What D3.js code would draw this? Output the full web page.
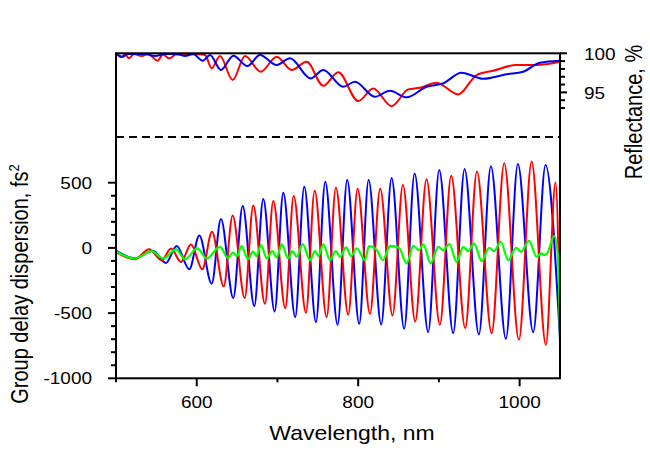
<!DOCTYPE html>
<html><head><meta charset="utf-8">
<script src="https://cdn.jsdelivr.net/npm/d3@7/dist/d3.min.js"></script>
<style>
body{margin:0;background:#fff}
text{font-family:"Liberation Sans",Arial,sans-serif;fill:#000}
</style>
</head><body>
<svg id="chart" width="650" height="453"></svg>
<script>
// ---------- data ----------
const xTicksMajor = [600, 800, 1000];
const xTicksMinor = [500, 700, 900];
const gddTicksMajor = [-1000, -500, 0, 500];
const gddTicksMinor = [-900, -800, -700, -600, -400, -300, -200, -100, 100, 200, 300, 400];
const reflTicksMajor = [100, 95];
const reflTicksMinor = [99, 98, 97, 96, 94, 93];
const separatorGDD = 850;

// group delay dispersion, [wavelength nm, GDD fs^2]
const gddBlue = [
 [500,-21],[523.5,-79],[545.8,-22],[561.9,-115],[575.2,15],[590.8,-164],[603.2,95],[618.5,-274],
 [630,221],[645.3,-385],[656.9,321],[671.3,-446],[682.4,375],[696.5,-487],[707.2,423],[722,-531],
 [733.2,469],[747.7,-569],[759.2,508],[774.5,-589],[786.4,521],[801.3,-582],[812.9,521],[828.5,-587],
 [841.4,536],[857,-620],[869.9,571],[886.7,-646],[900.4,598],[917.7,-654],[931.8,605],[949.5,-664],
 [964.4,626],[983,-697],[997.8,644],[1016.8,-646],[1032.1,636],[1050,-700]
];
const gddRed = [
 [500,-33],[523.5,-87],[540.9,-10],[556.6,-95],[568.1,-5],[580.5,-108],[592.9,26],[606.9,-164],
 [618.9,123],[633.4,-295],[644.5,249],[659.4,-385],[670,326],[684.5,-428],[694.8,359],[709.7,-462],
 [720.1,398],[735.3,-497],[746.1,438],[760.9,-531],[772.4,462],[787.7,-512],[799.3,454],[814.6,-505],
 [827.3,454],[842.5,-518],[855.4,482],[870.7,-564],[884.6,526],[901.2,-589],[915.2,554],[932.6,-615],
 [947.1,585],[965.3,-654],[980.9,649],[999.1,-705],[1014.8,662],[1032.5,-743],[1044.5,503],[1050,-640]
];
const gddGreen = [
 [500,-28],[523.5,-81],[544.2,-25],[558.6,-81],[574.3,-12],[585.5,-88],[600.7,-4],[612.4,-81],
 [628.8,8],[638.7,-78],[644.9,-36],[649.9,-63],[655.5,14],[663.5,-86],[669.7,-28],[674,-63],
 [679.6,21],[687,-81],[693.6,-25],[699.1,-73],[705.3,27],[713.4,-81],[718.4,-25],[723.8,-68],
 [731.3,29],[740.3,-94],[746.5,-25],[750.6,-63],[756.8,27],[765.1,-94],[772.2,-25],[777.5,-68],
 [784.9,4],[791.1,-63],[798.2,-4],[808.4,-94],[813.4,14],[822.9,-17],[830.7,-94],[839.4,16],
 [850.5,1],[860.1,-119],[868.3,16],[875.3,-17],[880.7,27],[889.8,-119],[899.2,8],[905.4,-17],
 [912.9,29],[922,-107],[930.2,8],[936.4,-25],[943.5,35],[953,-101],[962.4,1],[968.2,-25],
 [976.5,47],[985.9,-94],[995.5,1],[1001.7,-30],[1011.6,54],[1021.1,-68],[1027.3,-42],[1030.2,-55],
 [1033.5,-48],[1042.9,90],[1047.9,-94],[1050,-692]
];

// reflectance, [wavelength nm, R %]
const reflRed = [
 [500,100],[507.1,99.49],[511.1,99.9],[516.1,99.36],[522.3,99.9],[531.8,99.65],[539.6,99.9],[551.6,99.05],
 [558.2,99.85],[566,99.36],[574.3,99.85],[585.4,99.78],[597.8,99.9],[610.2,99.78],[618.5,98.08],[628.8,99.65],
 [644.5,96.58],[659.8,99.65],[679.2,97.64],[699,99.56],[717.6,97.86],[736.2,98.92],[756.7,95.85],[775.3,97.56],
 [800.1,93.88],[818.6,95.51],[841.4,93.24],[862,95.38],[876.5,95.59],[897.1,96.23],[923.8,94.74],[946.7,97.22],
 [967.2,97.77],[996.2,98.5],[1020.9,98.5],[1050,98.92]
];
const reflBlue = [
 [500,99.97],[507.8,99.56],[514.9,99.9],[535.9,99.9],[548.3,99.65],[560.7,99.9],[576.8,99.9],[585.4,99.65],
 [595.4,99.9],[607.4,99.05],[616.4,99.78],[630,97.86],[645.3,99.69],[662.6,98.37],[678.3,99.78],[699,98.5],
 [715.5,99.36],[741.1,96.79],[756.7,97.86],[781.5,95.72],[796,96.36],[820.7,94.44],[839.3,95.21],[860,94.36],
 [884.6,95.72],[905.2,96.15],[928,97.51],[954.8,96.74],[983.8,97.31],[1004.3,97.64],[1025,98.79],[1050,99.05]
];

// ---------- drawing ----------
const svg = d3.select("#chart");
const L = 116, R = 560, T = 53.3, B = 378.3;
const SX = 1.15; // horizontal text stretch of the reference

const x = d3.scaleLinear().domain([500, 1050]).range([L, R]);
const yG = d3.scaleLinear().domain([-1000, 500]).range([B, 182.7]);
const yR = d3.scaleLinear().domain([93, 100]).range([108, T]);

svg.append("defs").append("clipPath").attr("id", "clip")
  .append("rect").attr("x", L).attr("y", T - 2).attr("width", R - L).attr("height", B - T + 2);

const plot = svg.append("g").attr("clip-path", "url(#clip)");

const lineG = d3.line().x(d => x(d[0])).y(d => yG(d[1])).curve(d3.curveMonotoneX);
const lineR = d3.line().x(d => x(d[0])).y(d => yR(d[1])).curve(d3.curveMonotoneX);

// separator
plot.append("line").attr("x1", L).attr("x2", R)
  .attr("y1", yG(separatorGDD)).attr("y2", yG(separatorGDD))
  .attr("stroke", "#000").attr("stroke-width", 2).attr("stroke-dasharray", "8,5");

plot.append("path").datum(reflRed).attr("d", lineR).attr("fill", "none").attr("stroke", "#ff0000").attr("stroke-width", 2);
plot.append("path").datum(reflBlue).attr("d", lineR).attr("fill", "none").attr("stroke", "#0000ff").attr("stroke-width", 2);

plot.append("path").datum(gddBlue).attr("d", lineG).attr("fill", "none").attr("stroke", "#0000ff").attr("stroke-width", 2);
plot.append("path").datum(gddRed).attr("d", lineG).attr("fill", "none").attr("stroke", "#ff0000").attr("stroke-width", 2);
plot.append("path").datum(gddGreen).attr("d", lineG).attr("fill", "none").attr("stroke", "#00ff00").attr("stroke-width", 2.2);

// frame
svg.append("rect").attr("x", L).attr("y", T).attr("width", R - L).attr("height", B - T)
  .attr("fill", "none").attr("stroke", "#000").attr("stroke-width", 2);

// bottom axis ticks
const gx = svg.append("g");
gx.selectAll(".xmaj").data(xTicksMajor).enter().append("line")
  .attr("x1", d => x(d)).attr("x2", d => x(d)).attr("y1", B).attr("y2", B + 8)
  .attr("stroke", "#000").attr("stroke-width", 2);
gx.selectAll(".xmin").data(xTicksMinor).enter().append("line")
  .attr("x1", d => x(d)).attr("x2", d => x(d)).attr("y1", B).attr("y2", B + 4)
  .attr("stroke", "#000").attr("stroke-width", 2);
gx.selectAll(".xl").data(xTicksMajor).enter().append("text")
  .attr("transform", d => `translate(${x(d)},408) scale(${SX},1)`)
  .attr("text-anchor", "middle").attr("font-size", 16.5).text(d => d);

// left axis ticks
const gy = svg.append("g");
gy.selectAll(".ymaj").data(gddTicksMajor).enter().append("line")
  .attr("x1", L - 8).attr("x2", L).attr("y1", d => yG(d)).attr("y2", d => yG(d))
  .attr("stroke", "#000").attr("stroke-width", 2);
gy.selectAll(".ymin").data(gddTicksMinor).enter().append("line")
  .attr("x1", L - 5).attr("x2", L).attr("y1", d => yG(d)).attr("y2", d => yG(d))
  .attr("stroke", "#000").attr("stroke-width", 2);
gy.selectAll(".yl").data(gddTicksMajor).enter().append("text")
  .attr("transform", d => `translate(92,${yG(d) + 6}) scale(${SX},1)`)
  .attr("text-anchor", "end").attr("font-size", 16.5).text(d => d);

// right axis ticks
const gr = svg.append("g");
gr.selectAll(".rmaj").data(reflTicksMajor).enter().append("line")
  .attr("x1", R).attr("x2", R + 7).attr("y1", d => yR(d)).attr("y2", d => yR(d))
  .attr("stroke", "#000").attr("stroke-width", 2);
gr.selectAll(".rmin").data(reflTicksMinor).enter().append("line")
  .attr("x1", R).attr("x2", R + 5).attr("y1", d => yR(d)).attr("y2", d => yR(d))
  .attr("stroke", "#000").attr("stroke-width", 2);
gr.selectAll(".rl").data(reflTicksMajor).enter().append("text")
  .attr("transform", d => `translate(584,${yR(d) + 7}) scale(${SX},1)`)
  .attr("text-anchor", "start").attr("font-size", 16.5).text(d => d);

// titles
svg.append("text").attr("transform", `translate(352,440) scale(${SX},1)`)
  .attr("text-anchor", "middle").attr("font-size", 20).text("Wavelength, nm");

const lt = svg.append("text").attr("transform", `translate(28,284) scale(${SX},1) rotate(-90)`)
  .attr("text-anchor", "middle").attr("font-size", 20);
lt.append("tspan").text("Group delay dispersion, fs");
lt.append("tspan").attr("font-size", 13).attr("dy", -8).text("2");

svg.append("text").attr("transform", `translate(642,112) scale(${SX},1) rotate(-90)`)
  .attr("text-anchor", "middle").attr("font-size", 20).text("Reflectance, %");
</script>
</body></html>
